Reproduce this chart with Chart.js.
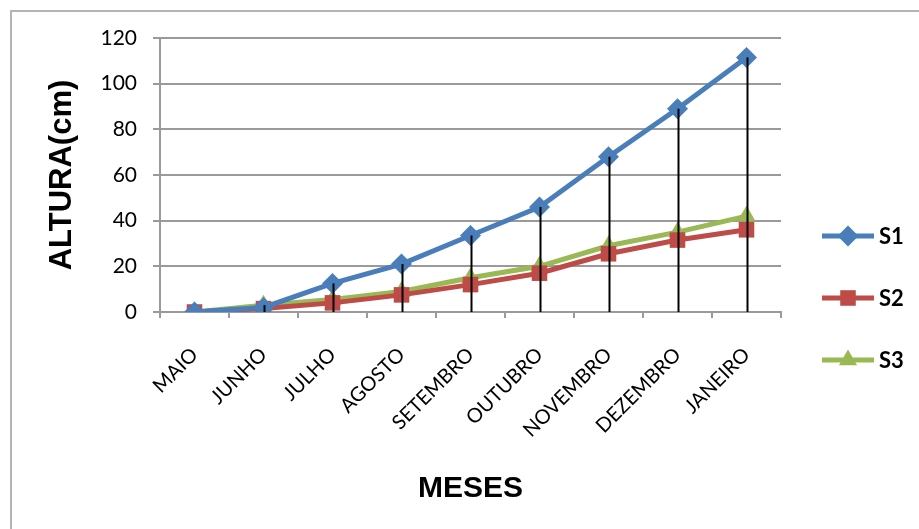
<!DOCTYPE html>
<html>
<head>
<meta charset="utf-8">
<script src="https://cdn.jsdelivr.net/npm/chart.js@4/dist/chart.umd.min.js"></script>
<style>
  html, body { margin: 0; padding: 0; background: #ffffff; }
  #wrap { width: 919px; height: 529px; }
</style>
</head>
<body>
<div id="wrap"><canvas id="c" width="919" height="529"></canvas></div>
<script>
// Monthly plant height (cm) for three series
const meses = ['MAIO', 'JUNHO', 'JULHO', 'AGOSTO', 'SETEMBRO', 'OUTUBRO', 'NOVEMBRO', 'DEZEMBRO', 'JANEIRO'];
const s1 = [0, 2, 12.5, 21, 33.5, 46, 68, 89, 111.5];
const s2 = [0, 1.5, 4, 7.5, 12, 17, 25.5, 31.5, 36];
const s3 = [0, 3, 5.5, 9, 15, 20, 29, 35, 42];
const seriesNames = ['S1', 'S2', 'S3'];
const yTicks = [0, 20, 40, 60, 80, 100, 120];

const cores = ['#4A7EBB', '#BE4B48', '#98B954'];
const marcadores = ['rectRot', 'rect', 'triangle'];
const raios = [10.5, 11, 10.5];

const gridColor = '#9a9a9a';

function serie(i, values) {
  return {
    label: seriesNames[i],
    data: values,
    borderColor: cores[i],
    backgroundColor: cores[i],
    borderWidth: 5,
    pointStyle: marcadores[i],
    pointRadius: raios[i],
    pointHoverRadius: raios[i],
    pointBorderWidth: 0,
    pointBackgroundColor: cores[i],
    tension: 0
  };
}

// outer frame of the chart object
const moldura = {
  id: 'moldura',
  beforeDraw(chart) {
    const ctx = chart.ctx;
    ctx.save();
    ctx.strokeStyle = '#b4b4b4';
    ctx.lineWidth = 2;
    ctx.beginPath();
    ctx.moveTo(11, chart.height + 5);
    ctx.lineTo(11, 11);
    ctx.lineTo(chart.width + 5, 11);
    ctx.stroke();
    ctx.restore();
  }
};

// vertical drop lines from the highest value of each month down to zero
const linhasVerticais = {
  id: 'linhasVerticais',
  afterDatasetsDraw(chart) {
    const ctx = chart.ctx;
    const x = chart.scales.x, y = chart.scales.y;
    const y0 = y.getPixelForValue(0);
    ctx.save();
    ctx.strokeStyle = '#000000';
    ctx.lineWidth = 2;
    meses.forEach((m, i) => {
      const topo = Math.max(...chart.data.datasets.map(d => d.data[i]));
      if (topo <= 0) return;
      const px = Math.round(x.getPixelForValue(i)) + 0.5;
      ctx.beginPath();
      ctx.moveTo(px, y.getPixelForValue(topo));
      ctx.lineTo(px, y0);
      ctx.stroke();
    });
    ctx.restore();
  }
};

// legend on the right: line sample with marker, then the series name
const legenda = {
  id: 'legenda',
  afterDraw(chart) {
    const ctx = chart.ctx;
    const ds = chart.data.datasets;
    const xL = 822, xR = 874, xM = 848, xT = 879;
    const centro = 298, passo = 62;
    ctx.save();
    ds.forEach((d, i) => {
      const yy = centro + (i - (ds.length - 1) / 2) * passo;
      ctx.strokeStyle = d.borderColor;
      ctx.lineWidth = 5;
      ctx.beginPath();
      ctx.moveTo(xL, yy);
      ctx.lineTo(xR, yy);
      ctx.stroke();
      ctx.fillStyle = d.borderColor;
      Chart.helpers.drawPoint(ctx, { pointStyle: d.pointStyle, radius: d.pointRadius, rotation: 0, borderWidth: 0 }, xM, yy);
      ctx.fillStyle = '#000000';
      ctx.font = 'bold 22px Lato';
      ctx.textAlign = 'left';
      ctx.textBaseline = 'middle';
      ctx.fillText(d.label, xT, yy + 1);
    });
    ctx.restore();
  }
};

new Chart(document.getElementById('c'), {
  type: 'line',
  data: {
    labels: meses,
    datasets: [serie(0, s1), serie(1, s2), serie(2, s3)]
  },
  options: {
    responsive: false,
    animation: false,
    devicePixelRatio: 1,
    layout: { padding: { top: 38, right: 138, bottom: 0, left: 0 } },
    plugins: {
      legend: { display: false },
      tooltip: { enabled: false }
    },
    scales: {
      x: {
        type: 'category',
        offset: true,
        grid: {
          offset: true,
          drawOnChartArea: false,
          drawTicks: true,
          tickLength: 6,
          color: gridColor,
          lineWidth: 2
        },
        border: { color: gridColor, width: 2 },
        ticks: {
          font: { family: 'Lato', size: 20 },
          color: '#000000',
          minRotation: 45,
          maxRotation: 45,
          padding: 25,
          autoSkip: false
        },
        title: {
          display: true,
          text: 'MESES',
          font: { family: 'Liberation Sans', size: 30, weight: 'bold' },
          color: '#000000',
          padding: { top: 0, bottom: 22 }
        },
        afterFit(scale) { scale.height = 217; }
      },
      y: {
        min: 0,
        max: 120,
        afterBuildTicks(scale) { scale.ticks = yTicks.map(v => ({ value: v })); },
        grid: {
          color: gridColor,
          lineWidth: 2,
          drawTicks: true,
          tickLength: 7
        },
        border: { color: gridColor, width: 2 },
        ticks: {
          font: { family: 'Lato', size: 21 },
          color: '#000000',
          padding: 16
        },
        title: {
          display: true,
          text: 'ALTURA(cm)',
          font: { family: 'Liberation Sans', size: 31, weight: 'bold' },
          color: '#000000',
          padding: 44
        },
        afterFit(scale) { scale.width = 160; }
      }
    }
  },
  plugins: [moldura, linhasVerticais, legenda]
});
</script>
</body>
</html>
